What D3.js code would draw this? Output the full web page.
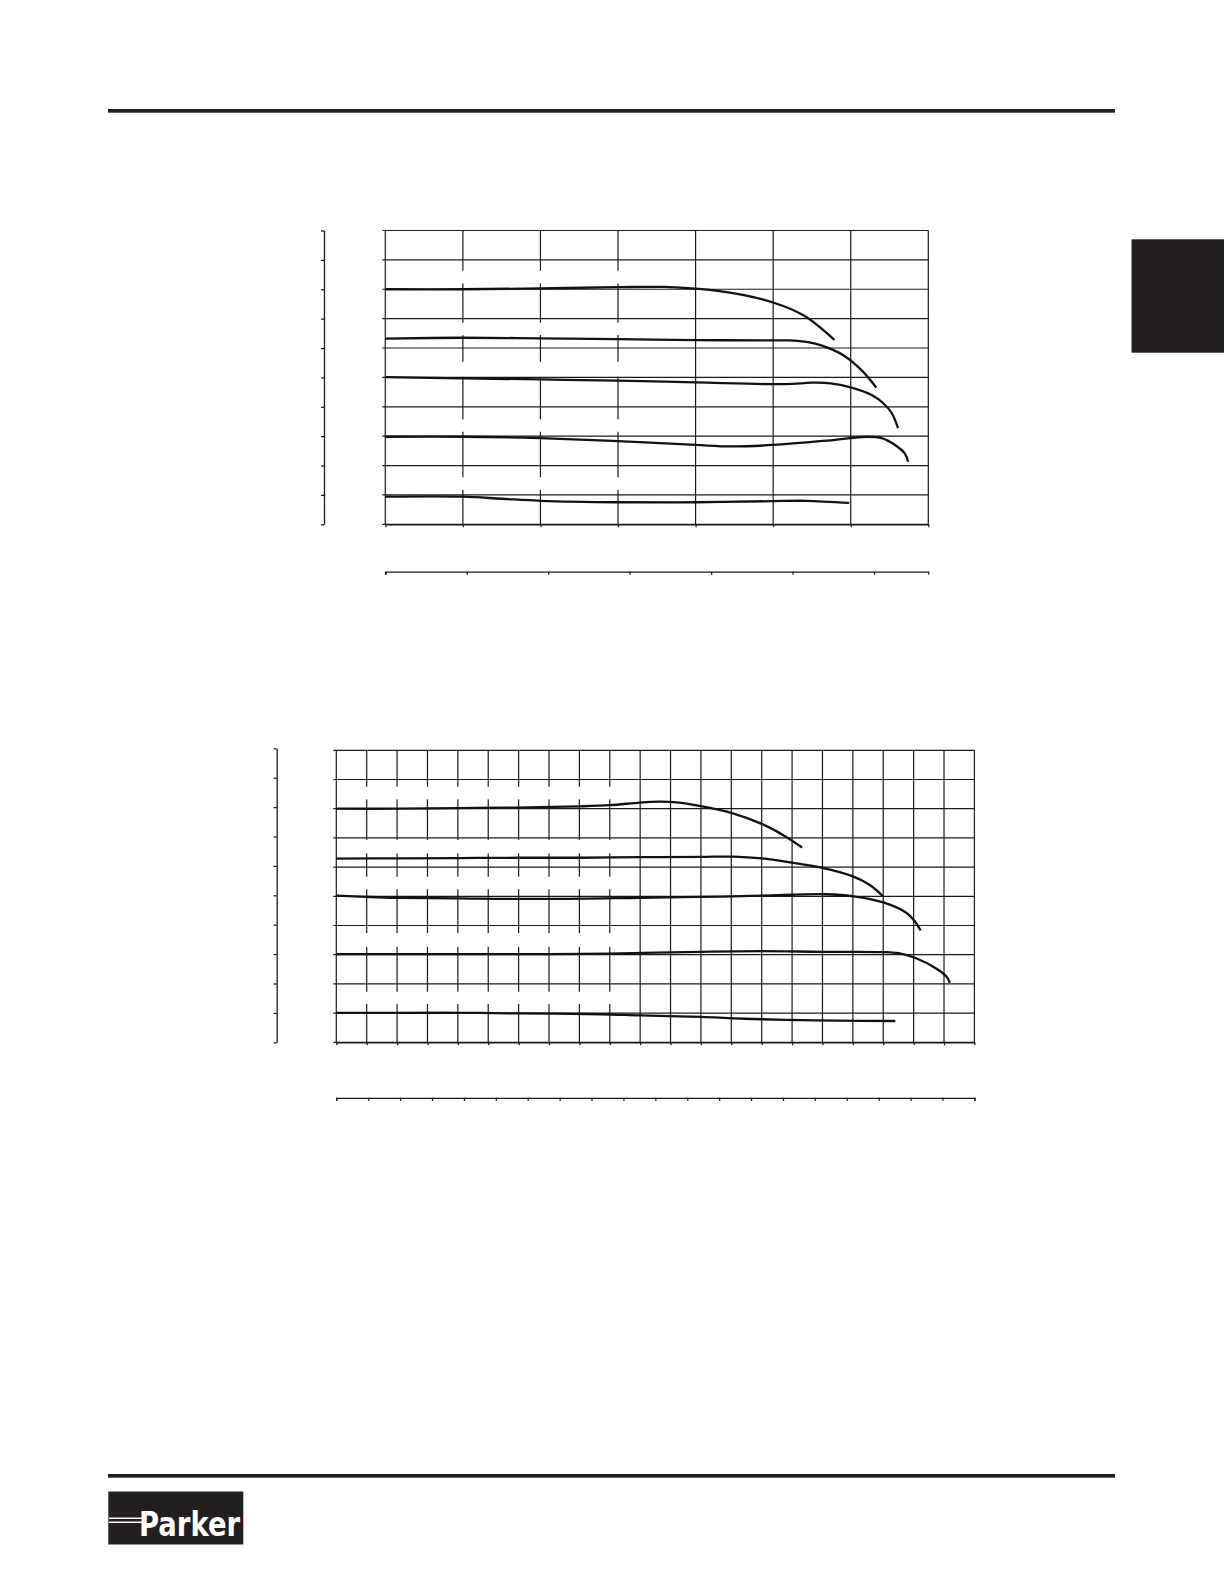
<!DOCTYPE html>
<html>
<head>
<meta charset="utf-8">
<script src="https://cdn.jsdelivr.net/npm/d3@7"></script>
<style>
  html, body { margin: 0; padding: 0; background: #fff; }
  svg { display: block; }
</style>
</head>
<body>
<svg id="page" width="1224" height="1584"></svg>
<script>
// ---------------- DATA ----------------
// Chart 1: x in grid units (0..7), y in grid units (0..10)
const c1Ticks = d3.range(0, 8);          // primary x grid
const c1YTicks = d3.range(0, 11);        // y grid
const c1SecondTicks = d3.range(0, 7);    // secondary x axis ticks
const c1A_x = [0, 1, 2, 3, 3.6, 4.0, 4.5, 5.0, 5.4, 5.79];
const c1A_y = [8.0, 8.0, 8.03, 8.07, 8.08, 8.02, 7.86, 7.55, 7.1, 6.28];
const c1B_x = [0, 1, 2, 3, 4, 5, 5.2, 5.45, 5.63, 5.9, 6.16, 6.33];
const c1B_y = [6.32, 6.35, 6.33, 6.30, 6.27, 6.26, 6.26, 6.20, 6.08, 5.76, 5.19, 4.65];
const c1C_x = [0, 1, 2, 3, 4, 5, 5.25, 5.5, 5.74, 6.0, 6.27, 6.42, 6.53, 6.61];
const c1C_y = [5.01, 4.97, 4.93, 4.89, 4.83, 4.77, 4.78, 4.82, 4.80, 4.66, 4.40, 4.12, 3.78, 3.27];
const c1D_x = [0, 1, 2, 3, 4, 4.46, 5, 5.74, 6.21, 6.40, 6.58, 6.70, 6.74];
const c1D_y = [2.98, 2.98, 2.93, 2.83, 2.70, 2.65, 2.70, 2.86, 2.98, 2.93, 2.68, 2.40, 2.13];
const c1E_x = [0, 1, 1.5, 2, 3, 4, 5, 5.42, 5.98];
const c1E_y = [0.94, 0.94, 0.87, 0.80, 0.75, 0.75, 0.79, 0.80, 0.73];
// blank label bands (y ranges in grid units) over columns 0.5..3.5
const c1Bands = [[8.20, 8.63], [6.44, 6.86], [5.02, 5.53], [3.15, 3.57], [1.17, 1.60]];

// Chart 2: x in grid units (0..21), y in grid units (0..10)
const c2Ticks = d3.range(0, 22);
const c2YTicks = d3.range(0, 11);
const c2SecondTicks = d3.range(0, 21);
const c2A_x = [0, 2, 4, 6, 8, 9, 10, 10.6, 11.2, 12, 13, 14, 14.7, 15.33];
const c2A_y = [8.0, 8.0, 8.02, 8.04, 8.08, 8.12, 8.21, 8.24, 8.22, 8.09, 7.86, 7.48, 7.1, 6.67];
const c2B_x = [0, 2, 4, 6, 8, 10, 12, 13, 14, 15, 16, 17, 17.57, 17.99];
const c2B_y = [6.29, 6.30, 6.31, 6.32, 6.32, 6.34, 6.35, 6.36, 6.30, 6.15, 5.97, 5.68, 5.38, 5.0];
const c2C_x = [0, 1, 2, 4, 7, 10, 12, 14, 16.1, 17.02, 18.0, 18.77, 19.05, 19.23];
const c2C_y = [5.02, 4.98, 4.95, 4.93, 4.91, 4.95, 4.98, 5.02, 5.07, 5.0, 4.79, 4.43, 4.13, 3.83];
const c2D_x = [0, 3, 7, 9, 12, 14, 16, 18, 18.5, 19.08, 19.74, 20.08, 20.19];
const c2D_y = [3.02, 3.02, 3.02, 3.04, 3.10, 3.12, 3.10, 3.09, 3.05, 2.88, 2.53, 2.25, 2.04];
const c2E_x = [0, 2, 4, 6, 8.7, 10, 12, 13.07, 14, 15.3, 16.5, 18.4];
const c2E_y = [1.01, 1.01, 1.01, 0.99, 0.96, 0.92, 0.87, 0.82, 0.79, 0.76, 0.74, 0.73];
const c2Bands = [[8.32, 8.75], [6.47, 6.93], [5.24, 5.67], [3.27, 3.74], [1.31, 1.73]];

const brandText = "Parker";

// ---------------- DRAW ----------------
const ink = "#1a1a1a";
const svg = d3.select("#page");
svg.append("rect").attr("width", 1224).attr("height", 1584).attr("fill", "#fff");

// page rules and tab
svg.append("rect").attr("x", 108).attr("y", 109).attr("width", 1007).attr("height", 3.7).attr("fill", "#231f20");
svg.append("rect").attr("x", 108).attr("y", 1474).attr("width", 1007).attr("height", 3.7).attr("fill", "#231f20");
svg.append("rect").attr("x", 1131.5).attr("y", 239.3).attr("width", 93).attr("height", 113.4).attr("fill", "#231f20");

// logo
const logo = svg.append("g");
logo.append("rect").attr("x", 108.3).attr("y", 1491.5).attr("width", 135).attr("height", 53).attr("fill", "#231f20");
logo.append("line").attr("x1", 109).attr("x2", 142).attr("y1", 1518.3).attr("y2", 1518.3).attr("stroke", "#fff").attr("stroke-width", 1.4);
logo.append("line").attr("x1", 109).attr("x2", 142).attr("y1", 1522.3).attr("y2", 1522.3).attr("stroke", "#fff").attr("stroke-width", 1.4);
logo.append("text").attr("x", 139).attr("y", 1535.5)
  .attr("font-family", "DejaVu Sans").attr("font-weight", "bold")
  .attr("font-size", 34).attr("fill", "#fff")
  .attr("textLength", 101).attr("lengthAdjust", "spacingAndGlyphs")
  .text(brandText);

function drawChart(cfg) {
  const g = svg.append("g");
  const x = d3.scaleLinear().domain([0, cfg.nx]).range([cfg.left, cfg.right]);
  const y = d3.scaleLinear().domain([0, 10]).range([cfg.bottom, cfg.top]);

  // vertical grid lines
  g.selectAll("line.vg").data(cfg.xTicks).join("line")
    .attr("x1", d => x(d)).attr("x2", d => x(d))
    .attr("y1", cfg.top).attr("y2", cfg.bottom)
    .attr("stroke", ink).attr("stroke-width", 1.2);

  // blank label bands interrupting inner grid lines
  g.selectAll("rect.band").data(cfg.bands).join("rect")
    .attr("x", x(0.5)).attr("width", x(cfg.bandEnd) - x(0.5))
    .attr("y", d => y(d[1])).attr("height", d => y(d[0]) - y(d[1]))
    .attr("fill", "#fff");

  // horizontal grid lines
  g.selectAll("line.hg").data(cfg.yTicks).join("line")
    .attr("x1", cfg.left - 3).attr("x2", cfg.right)
    .attr("y1", d => y(d)).attr("y2", d => y(d))
    .attr("stroke", ink).attr("stroke-width", 1.2);

  // bottom axis ticks of the plot
  const xa = g.append("g").attr("transform", `translate(0,${cfg.bottom})`)
    .call(d3.axisBottom(x).tickValues(cfg.xTicks).tickSize(3).tickSizeOuter(0).tickFormat(""));
  xa.selectAll("path, line").attr("stroke", ink).attr("stroke-width", 1.2);

  // separate left axis
  const ly = d3.scaleLinear().domain([0, 10]).range([cfg.bottom, cfg.leftAxisTop]);
  const la = g.append("g").attr("transform", `translate(${cfg.leftAxisX},0)`)
    .call(d3.axisLeft(ly).tickValues(cfg.yTicks).tickSize(3).tickSizeOuter(0).tickFormat(""));
  la.selectAll("path, line").attr("stroke", ink).attr("stroke-width", 1.3);

  // secondary bottom axis
  const x2 = d3.scaleLinear().domain([0, cfg.nx / 1.05]).range([cfg.left, cfg.right]);
  const sa = g.append("g").attr("transform", `translate(0,${cfg.secondY})`)
    .call(d3.axisBottom(x2).tickValues(cfg.secondTicks).tickSize(3).tickSizeOuter(3).tickFormat(""));
  sa.selectAll("path, line").attr("stroke", ink).attr("stroke-width", 1.3);

  // curves
  const line = d3.line().x(d => x(d[0])).y(d => y(d[1])).curve(d3.curveCatmullRom.alpha(0.5));
  cfg.curves.forEach(([xs, ys]) => {
    g.append("path").datum(xs.map((v, i) => [v, ys[i]]))
      .attr("d", line).attr("fill", "none")
      .attr("stroke", "#111").attr("stroke-width", 2.3)
      .attr("stroke-linecap", "butt");
  });
}

drawChart({
  nx: 7, left: 385.3, right: 928.3, top: 230.5, bottom: 524.3,
  leftAxisX: 324, leftAxisTop: 230.5, secondY: 571.7,
  xTicks: c1Ticks, yTicks: c1YTicks, secondTicks: c1SecondTicks,
  bands: c1Bands, bandEnd: 3.5,
  curves: [[c1A_x, c1A_y], [c1B_x, c1B_y], [c1C_x, c1C_y], [c1D_x, c1D_y], [c1E_x, c1E_y]]
});

drawChart({
  nx: 21, left: 336.3, right: 974.4, top: 750.3, bottom: 1042.3,
  leftAxisX: 276.7, leftAxisTop: 748.3, secondY: 1097.8,
  xTicks: c2Ticks, yTicks: c2YTicks, secondTicks: c2SecondTicks,
  bands: c2Bands, bandEnd: 9.5,
  curves: [[c2A_x, c2A_y], [c2B_x, c2B_y], [c2C_x, c2C_y], [c2D_x, c2D_y], [c2E_x, c2E_y]]
});
</script>
</body>
</html>
